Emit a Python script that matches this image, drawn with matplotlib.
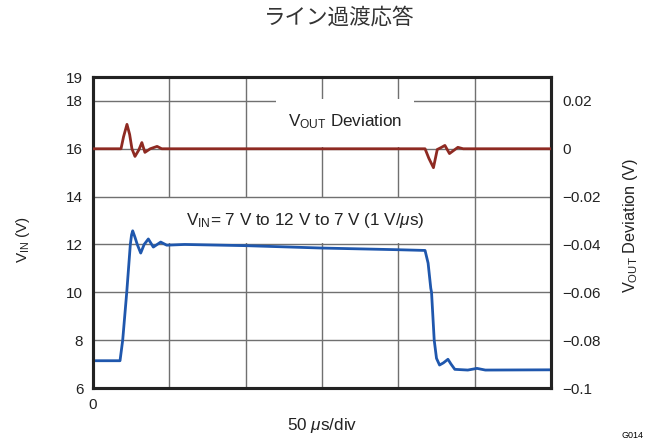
import matplotlib
matplotlib.use('Agg')
import matplotlib.pyplot as plt
from matplotlib.patches import Rectangle

plt.rcParams['font.family'] = ['Liberation Sans', 'DejaVu Sans']
plt.rcParams['mathtext.fontset'] = 'custom'
plt.rcParams['mathtext.rm'] = 'Liberation Sans'
plt.rcParams['mathtext.it'] = 'Liberation Sans:italic'
plt.rcParams['axes.unicode_minus'] = True

# time in divisions (50 us/div), VIN in volts
vin_t = [0, 0.354, 0.389, 0.442, 0.489, 0.505, 0.52, 0.55, 0.58, 0.625, 0.67, 0.725, 0.79,
         0.887, 0.966, 1.2, 2.0, 3.0, 4.0, 4.35, 4.39, 4.425, 4.435, 4.47, 4.50, 4.54,
         4.59, 4.65, 4.69, 4.74, 4.91, 5.03, 5.14, 6.0]
vin_v = [7.14, 7.14, 8.0, 10.0, 12.0, 12.4, 12.57, 12.3, 12.0, 11.64, 12.0, 12.23, 11.89,
         12.1, 11.97, 12.0, 11.95, 11.85, 11.78, 11.75, 11.22, 10.17, 10.0, 8.0, 7.24, 6.96,
         7.05, 7.2, 7.0, 6.78, 6.75, 6.82, 6.75, 6.76]

# VOUT deviation in volts
vout_t = [0, 0.367, 0.40, 0.445, 0.48, 0.51, 0.55, 0.60, 0.64, 0.68, 0.75, 0.84, 0.9,
          4.35, 4.40, 4.46, 4.51, 4.56, 4.61, 4.67, 4.78, 4.85, 6.0]
vout_dev = [0, 0, 0.005, 0.0102, 0.006, 0, -0.0032, -0.0005, 0.0026, -0.0015, 0.0, 0.001, 0,
            0, -0.004, -0.0079, -0.0003, 0.0005, 0.0014, -0.002, 0.0006, 0, 0]

left_ticks = [6, 8, 10, 12, 14, 16, 18, 19]
right_ticks = [0.02, 0, -0.02, -0.04, -0.06, -0.08, -0.1]
right_labels = ['0.02', '0', '\u22120.02', '\u22120.04', '\u22120.06', '\u22120.08', '\u22120.1']

fig = plt.figure(figsize=(6.6, 4.44), dpi=100)
ax = fig.add_axes([93/660, 1-388/444, 458/660, 311/444])
ax.set_xlim(0, 6)
ax.set_ylim(6, 19)
ax.set_yticks(left_ticks)
ax.set_xticks([0])
ax.set_xticklabels(['0'])
ax.tick_params(length=0, labelsize=11, pad=7, colors='#222222')

for v in [8, 10, 12, 14, 16, 18]:
    ax.axhline(v, color='#707070', lw=1, zorder=0.8)
for d in [1, 2, 3, 4, 5]:
    ax.axvline(d, color='#707070', lw=1, zorder=0.5)

for s in ax.spines.values():
    s.set_linewidth(2.2)
    s.set_color('#222222')

# white label backgrounds
ax.add_patch(Rectangle((2.40, 16.08), 1.81, 1.98, fc='white', ec='none', zorder=1))
ax.add_patch(Rectangle((0.95, 12.05), 3.6, 1.9, fc='white', ec='none', zorder=0.6))

ax.text(3.31, 17.12, 'V$_{\\mathrm{OUT}}$ Deviation', fontsize=12.3, ha='center', va='center',
        color='#222222', zorder=1.1)
ax.text(2.78, 13.02, 'V$_{\\mathrm{IN}}$= 7 V to 12 V to 7 V (1 V/$\\mu$s)', fontsize=12.3,
        ha='center', va='center', color='#222222', zorder=1.1)

ax.plot(vin_t, vin_v, color='#1f57ad', lw=2.0, zorder=3, solid_joinstyle='round')

ax2 = ax.twinx()
ax2.set_ylim(-0.1, 0.03)
ax2.set_yticks(right_ticks)
ax2.set_yticklabels(right_labels)
ax2.tick_params(length=0, labelsize=11, pad=8, colors='#222222')
for s in ax2.spines.values():
    s.set_linewidth(2.2)
    s.set_color('#222222')
ax2.plot(vout_t, vout_dev, color='#8e2a22', lw=2.0, zorder=3, solid_joinstyle='round')

ax.set_ylabel('V$_{\\mathrm{IN}}$ (V)', fontsize=11, color='#222222')
ax.yaxis.set_label_coords(-0.133, 0.476)
ax2.set_ylabel('V$_{\\mathrm{OUT}}$ Deviation (V)', fontsize=11.7, color='#222222')
ax2.yaxis.set_label_coords(1.153, 0.524)
ax.set_xlabel('50 $\\mu$s/div', fontsize=12.3, color='#222222')
ax.xaxis.set_label_coords(0.5, -0.09)

fig.text(339/660, 1-18/444, 'ライン過渡応答', ha='center', va='center', fontsize=15.5,
         color='#333333', family=['Noto Sans CJK JP', 'DejaVu Sans'])
fig.text(632/660, 1-435/444, 'G014', ha='center', va='center', fontsize=6.5)

fig.savefig('out.png', dpi=100)
